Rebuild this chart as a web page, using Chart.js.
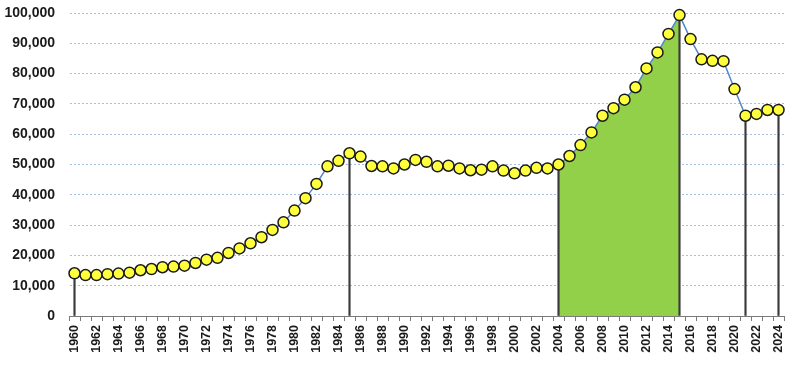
<!DOCTYPE html>
<html>
<head>
<meta charset="utf-8">
<script src="https://cdn.jsdelivr.net/npm/chart.js@4"></script>
<style>
  html, body { margin: 0; padding: 0; background: #fff; }
  #c { display: block; }
</style>
</head>
<body>
<canvas id="c" width="800" height="370"></canvas>
<script>
/* ── DATA ── */
const years = [];
for (let y = 1960; y <= 2024; y++) years.push(String(y));

const values = [
  14100, 13500, 13500, 13800, 14000, 14300, 15100, 15500, 16100, 16300,  // 1960-69
  16600, 17500, 18600, 19200, 20800, 22300, 24000, 26000, 28400, 30900,  // 1970-79
  34800, 38900, 43600, 49400, 51200, 53700, 52600, 49500, 49400, 48700,  // 1980-89
  50000, 51500, 50900, 49400, 49600, 48700, 48100, 48300, 49400, 48000,  // 1990-99
  47100, 48000, 48900, 48700, 50000, 52800, 56400, 60600, 66100, 68600,  // 2000-09
  71400, 75500, 81700, 87000, 93100, 99300, 91400, 84700, 84200, 84100,  // 2010-19
  74900, 66100, 66700, 68000, 68000                                      // 2020-24
];

const dropYears = ['1960', '1985', '2004', '2015', '2021', '2024'];
const shadeFrom = '2004';
const shadeTo   = '2015';

const yTicks = [0, 10000, 20000, 30000, 40000, 50000, 60000, 70000, 80000, 90000, 100000];

/* ── derived series ── */
const dropData  = years.map((y, i) => dropYears.includes(y) ? values[i] : null);
const iFrom = years.indexOf(shadeFrom), iTo = years.indexOf(shadeTo);
const shadeData = years.map((y, i) => (i >= iFrom && i <= iTo) ? values[i] : null);

/* ── CHART ── */
new Chart(document.getElementById('c').getContext('2d'), {
  data: {
    labels: years,
    datasets: [
      {
        type: 'line',
        data: values,
        borderColor: '#4f86cc',
        borderWidth: 1.5,
        pointRadius: 5.5,
        pointBackgroundColor: '#ffff3c',
        pointBorderColor: '#1a1a1a',
        pointBorderWidth: 1.5,
        tension: 0,
        fill: false,
        clip: false,
        order: 0
      },
      {
        type: 'bar',
        data: dropData,
        backgroundColor: '#3a3a3a',
        barThickness: 1.5,
        order: 1
      },
      {
        type: 'line',
        data: shadeData,
        borderWidth: 0,
        borderColor: 'rgba(0,0,0,0)',
        backgroundColor: '#92d04a',
        pointRadius: 0,
        fill: 'origin',
        spanGaps: false,
        order: 2
      }
    ]
  },
  options: {
    responsive: false,
    animation: false,
    devicePixelRatio: 1,
    layout: { autoPadding: false, padding: { top: 13, right: 16, left: 0, bottom: 0 } },
    plugins: { legend: { display: false }, tooltip: { enabled: false } },
    scales: {
      x: {
        type: 'category',
        offset: true,
        grid: { display: true, offset: true, drawOnChartArea: false, tickLength: 5, color: '#7a7a7a' },
        border: { display: true, color: '#7a7a7a', width: 1 },
        ticks: {
          autoSkip: false,
          minRotation: 90,
          maxRotation: 90,
          padding: 4,
          color: '#1a1a1a',
          font: { family: "'Liberation Sans', Arial, sans-serif", size: 12.5, weight: 'bold' },
          callback: function (v, i) { return i % 2 === 0 ? years[i] : ''; }
        },
        afterFit: s => { s.height = 54; }
      },
      y: {
        min: 0,
        max: 100000,
        afterBuildTicks: s => { s.ticks = yTicks.map(v => ({ value: v })); },
        grid: { color: '#a3bfe8', lineWidth: 1, drawTicks: false },
        border: { display: true, color: 'rgba(0,0,0,0)', dash: [2, 2] },
        ticks: {
          padding: 14,
          color: '#1a1a1a',
          font: { family: "'Liberation Sans', Arial, sans-serif", size: 14, weight: 'bold' },
          callback: v => v.toLocaleString('en-US')
        },
        afterFit: s => { s.width = 69; s.paddingTop = 0; }
      }
    }
  }
});
</script>
</body>
</html>
